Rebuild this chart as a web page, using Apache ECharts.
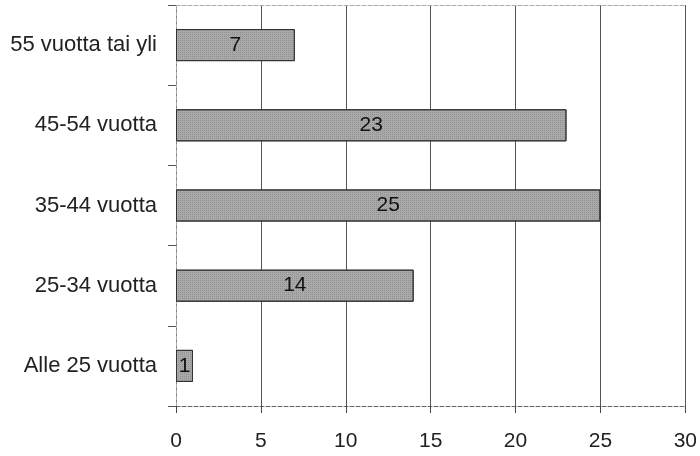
<!DOCTYPE html>
<html>
<head>
<meta charset="utf-8">
<script src="https://cdn.jsdelivr.net/npm/echarts@6/dist/echarts.min.js"></script>
<style>
  html, body { margin: 0; padding: 0; background: #fff; }
  #chart { width: 700px; height: 456px; }
</style>
</head>
<body>
<div id="chart"></div>
<script>
// Age groups, bottom to top as drawn on the category axis
const categories = ['Alle 25 vuotta', '25-34 vuotta', '35-44 vuotta', '45-54 vuotta', '55 vuotta tai yli'];
const values = [1, 14, 25, 23, 7];
const xTicks = [0, 5, 10, 15, 20, 25, 30];

const chart = echarts.init(document.getElementById('chart'));
const font = 'Liberation Sans, Arial, sans-serif';

chart.setOption({
  animation: false,
  grid: { left: 176, right: 14, top: 5, bottom: 50 },
  xAxis: [
    {
      type: 'value',
      min: xTicks[0],
      max: xTicks[xTicks.length - 1],
      interval: 5,
      axisLine: { show: true, lineStyle: { color: '#666', type: 'dashed', width: 1 } },
      axisTick: { show: true, length: 7, lineStyle: { color: '#444' } },
      axisLabel: { color: '#222', fontSize: 21, fontFamily: font, margin: 25 },
      splitLine: { show: true, lineStyle: { color: '#555', width: 1 } }
    },
    {
      type: 'value',
      position: 'top',
      min: xTicks[0],
      max: xTicks[xTicks.length - 1],
      axisLine: { show: true, lineStyle: { color: '#aaa', type: 'dashed', width: 1 } },
      axisTick: { show: false },
      axisLabel: { show: false },
      splitLine: { show: false }
    }
  ],
  yAxis: [
    {
      type: 'category',
      data: categories,
      axisLine: { show: true, lineStyle: { color: '#777', type: 'dashed', width: 1 } },
      axisTick: { show: true, length: 8, lineStyle: { color: '#555' } },
      axisLabel: { color: '#222', fontSize: 22, fontFamily: font, margin: 19 }
    },
    {
      type: 'category',
      position: 'right',
      data: categories,
      axisLine: { show: true, lineStyle: { color: '#aaa', type: 'dashed', width: 1 } },
      axisTick: { show: false },
      axisLabel: { show: false }
    }
  ],
  series: [{
    type: 'bar',
    data: values,
    barWidth: '40%',
    itemStyle: {
      color: '#a9a9a9',
      borderColor: '#333',
      borderWidth: 1,
      decal: {
        symbol: 'rect',
        symbolSize: 1,
        dashArrayX: [1, 1],
        dashArrayY: [1, 1],
        color: 'rgba(80,80,80,0.25)'
      }
    },
    label: {
      show: true,
      position: 'inside',
      color: '#111',
      fontSize: 21,
      fontFamily: font
    }
  }]
});
</script>
</body>
</html>
